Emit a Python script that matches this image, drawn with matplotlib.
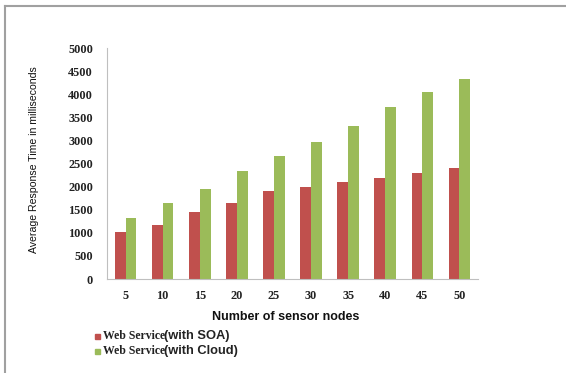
import matplotlib
matplotlib.use("Agg")
import matplotlib.pyplot as plt
from matplotlib.lines import Line2D
from matplotlib.patches import Rectangle
import numpy as np

nodes = ["5", "10", "15", "20", "25", "30", "35", "40", "45", "50"]
soa = [1020, 1160, 1460, 1645, 1900, 2000, 2100, 2190, 2300, 2400]
cloud = [1320, 1640, 1950, 2330, 2660, 2970, 3320, 3720, 4045, 4325]
yticks = [0, 500, 1000, 1500, 2000, 2500, 3000, 3500, 4000, 4500, 5000]

rojo = "#C0504D"
verde = "#9BBB59"
gris = "#BFBFBF"

W, H = 566, 373
fig = plt.figure(figsize=(W / 100, H / 100), dpi=100)

def px(x, y):
    return x / W, 1 - y / H

# marco exterior (solo izquierda y arriba)
fig.add_artist(Line2D([4.5 / W, 4.5 / W], [0, 1 - 6 / H], transform=fig.transFigure,
                      color="#A0A0A0", lw=1.5))
fig.add_artist(Line2D([4.5 / W, 1], [1 - 6 / H, 1 - 6 / H], transform=fig.transFigure,
                      color="#A0A0A0", lw=1.5))

ax = fig.add_axes([107 / W, 1 - 279 / H, (478 - 107) / W, (279 - 48) / H])
x = np.arange(len(nodes))
ancho = 0.29
ax.bar(x - ancho / 2, soa, width=ancho, color=rojo)
ax.bar(x + ancho / 2, cloud, width=ancho, color=verde)

ax.set_xlim(-0.5, len(nodes) - 0.5)
ax.set_ylim(0, 5000)
ax.set_yticks(yticks)
ax.set_xticks(x)
ax.set_xticklabels(nodes)
for s in ["top", "right"]:
    ax.spines[s].set_visible(False)
for s in ["left", "bottom"]:
    ax.spines[s].set_color(gris)
ax.tick_params(axis="y", length=0, pad=10, labelsize=8.8)
ax.tick_params(axis="x", length=0, pad=8, labelsize=8.8)
for lab in ax.get_xticklabels() + ax.get_yticklabels():
    lab.set_family("Liberation Serif")
    lab.set_fontweight("bold")
    lab.set_color("#222222")

fig.text(*px(34, 160), "Average Response Time in milliseconds", rotation=90,
         ha="center", va="center", fontsize=7.6,
         family="Liberation Sans", color="#111111")
fig.text(*px(286, 317), "Number of sensor nodes", ha="center", va="center",
         fontsize=9, fontweight="bold", family="Liberation Sans", color="#111111")

# leyenda dibujada a mano
for fila, (color, resto) in enumerate([(rojo, "(with SOA)"), (verde, "(with Cloud)")]):
    yc = 336 + fila * 15
    fig.add_artist(Rectangle(px(95, yc + 2.5), 5 / W, 5 / H, transform=fig.transFigure,
                             color=color))
    fig.text(*px(103, yc), "Web Service", ha="left", va="center", fontsize=8.5,
             fontweight="bold", family="Liberation Serif", color="#222222")
    fig.text(*px(164, yc), resto, ha="left", va="center", fontsize=9.3,
             fontweight="bold", family="Liberation Sans", color="#222222")

fig.savefig("out.png", dpi=100)
